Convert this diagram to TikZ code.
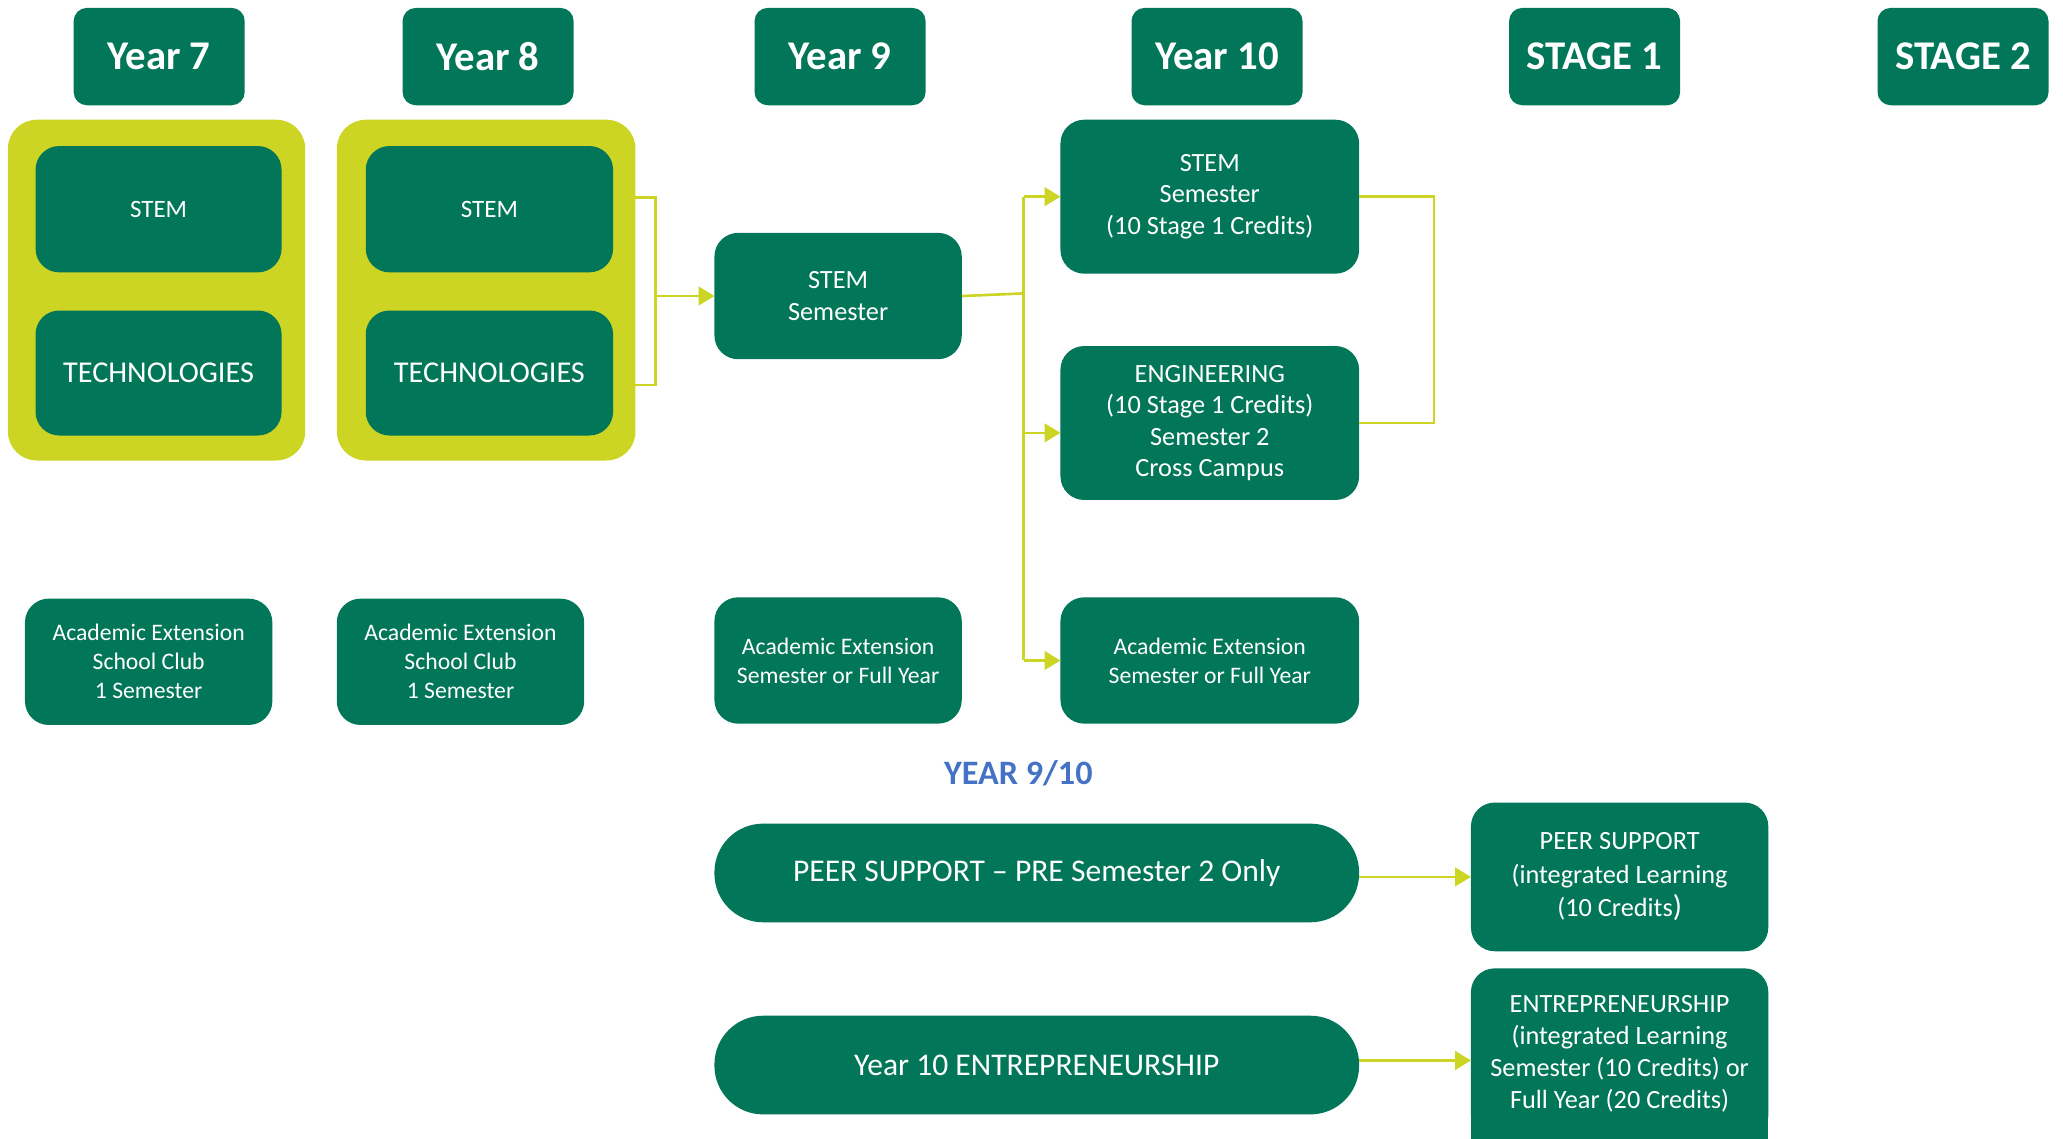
\documentclass[tikz,border=0pt]{standalone}
\usepackage{fontspec}
\setmainfont{Carlito}
\usetikzlibrary{arrows.meta,calc}
\definecolor{dkgreen}{RGB}{1,118,89}
\definecolor{lime}{RGB}{204,212,36}
\definecolor{yblue}{RGB}{68,114,196}
\tikzset{
  hdr/.style={fill=dkgreen,rounded corners=10pt,text=white,inner sep=0pt,outer sep=0pt,
    minimum width=130pt,minimum height=74pt,font=\fontsize{31}{36}\selectfont\bfseries},
  gbox/.style={fill=dkgreen,rounded corners=18pt,text=white,inner sep=0pt,outer sep=0pt,align=center},
  cont/.style={fill=lime,rounded corners=22pt,inner sep=0pt,outer sep=0pt},
  pill/.style={fill=dkgreen,rounded corners=37pt,text=white,inner sep=0pt,outer sep=0pt,
    minimum width=490pt,minimum height=75pt,font=\fontsize{24}{29}\selectfont},
  conn/.style={draw=lime,line width=2pt},
  arr/.style={draw=lime,line width=2pt,-{Triangle[length=12pt,width=14pt]}},
  fA/.style={font=\fontsize{18}{22}\selectfont},
  fB/.style={font=\fontsize{20}{24}\selectfont},
}
\begin{document}
\begin{tikzpicture}[x=1pt,y=-1pt]
\useasboundingbox (0,0) rectangle (1568,865);
\clip (0,0) rectangle (1568,865);
% headers
\node[hdr] (h7) at (121,43) {Year 7};
\node[hdr] (h8) at (371,43) {Year 8};
\node[hdr] (h9) at (638.5,43) {Year 9};
\node[hdr] (h10) at (925,43) {Year 10};
\node[hdr] (hs1) at (1212,43) {STAGE 1};
\node[hdr] (hs2) at (1492,43) {STAGE 2};
% containers
\node[cont,minimum width=226pt,minimum height=259pt] (y7cont) at (119,220.5) {};
\node[cont,minimum width=227pt,minimum height=259pt] (y8cont) at (369.5,220.5) {};
% inner boxes
\node[gbox,minimum width=187pt,minimum height=96pt,font=\fontsize{19}{23}\selectfont] (y7stem) at (120.5,159) {STEM};
\node[gbox,minimum width=187pt,minimum height=95pt,font=\fontsize{23}{28}\selectfont] (y7tech) at (120.5,283.5) {TECHNOLOGIES};
\node[gbox,minimum width=188pt,minimum height=96pt,font=\fontsize{19}{23}\selectfont] (y8stem) at (372,159) {STEM};
\node[gbox,minimum width=188pt,minimum height=95pt,font=\fontsize{23}{28}\selectfont] (y8tech) at (372,283.5) {TECHNOLOGIES};
% year 9
\node[gbox,fB,minimum width=188pt,minimum height=96pt] (y9stem) at (637,225) {STEM\\Semester};
% year 10
\node[gbox,fB,minimum width=227pt,minimum height=117pt] (y10stem) at (919.5,149.5) {STEM\\Semester\\(10 Stage 1 Credits)};
\node[gbox,fB,minimum width=227pt,minimum height=117pt] (eng) at (919.5,321.5) {ENGINEERING\\(10 Stage 1 Credits)\\Semester 2\\Cross Campus};
% academic extension row
\node[gbox,fA,minimum width=188pt,minimum height=96pt] (y7ae) at (113,503) {Academic Extension\\School Club\\1 Semester};
\node[gbox,fA,minimum width=188pt,minimum height=96pt] (y8ae) at (350,503) {Academic Extension\\School Club\\1 Semester};
\node[gbox,fA,minimum width=188pt,minimum height=96pt] (y9ae) at (637,502) {Academic Extension\\Semester or Full Year};
\node[gbox,fA,minimum width=227pt,minimum height=96pt] (y10ae) at (919.5,502) {Academic Extension\\Semester or Full Year};
% year 9/10 label
\node[text=yblue,font=\fontsize{26}{31}\selectfont\bfseries] (lbl) at (774,588) {YEAR 9/10};
% pills
\node[pill] (peer) at (788,663.5) {PEER SUPPORT -- PRE Semester 2 Only};
\node[pill] (ent) at (788,809.5) {Year 10 ENTREPRENEURSHIP};
\node[gbox,minimum width=226pt,minimum height=113pt,font=\fontsize{20}{25.5}\selectfont] (peerR) at (1231,666.5) {PEER SUPPORT\\(integrated Learning\\(10 Credits{\fontsize{23}{25.5}\selectfont)}};
\fill[dkgreen] (1118,800) rectangle (1344,880);
\node[gbox,minimum width=226pt,minimum height=130pt,font=\fontsize{20}{24.5}\selectfont] (entR) at (1231,801) {ENTREPRENEURSHIP\\(integrated Learning\\Semester (10 Credits) or\\Full Year (20 Credits)};
% connectors
\coordinate (jA) at (498,226);
\draw[conn] ([yshift=9pt]y8stem.east -| y8cont.east) -| ([yshift=-9pt]jA |- y8tech.east) -- ([yshift=-9pt]y8tech.east -| y8cont.east);
\draw[arr] (jA |- y9stem.west) -- (y9stem.west);
\coordinate (jB) at (778,223);
\draw[conn] (y9stem.east) -- (jB);
\draw[conn] (jB |- y10stem.west) -- (jB |- y10ae.west);
\draw[arr] (jB |- y10stem.west) -- (y10stem.west);
\draw[arr] (jB |- 0,329) -- (eng.west |- 0,329);
\draw[arr] (jB |- y10ae.west) -- (y10ae.west);
\coordinate (jC) at (1090,236);
\draw[conn] (y10stem.east) -| (jC |- eng.east) -- (eng.east);
\draw[arr] (peerR.west -| peer.east) -- (peerR.west);
\draw[arr] (ent.east |- 0,806) -- (entR.west |- 0,806);
\end{tikzpicture}
\end{document}
